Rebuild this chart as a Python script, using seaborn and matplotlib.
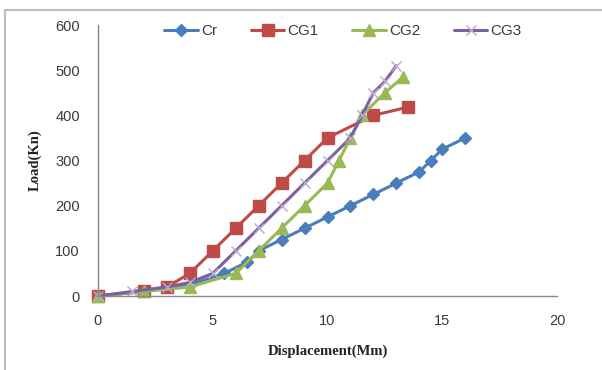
import matplotlib
matplotlib.use("Agg")
import matplotlib.pyplot as plt
import seaborn as sns
import pandas as pd
from matplotlib.lines import Line2D

# ---- data ----
cr_x = [0, 2, 4, 5.5, 6.5, 7, 8, 9, 10, 11, 12, 13, 14, 14.5, 15, 16]
cr_y = [0, 10, 25, 50, 75, 100, 125, 150, 175, 200, 225, 250, 275, 300, 325, 350]
cg1_x = [0, 2, 3, 4, 5, 6, 7, 8, 9, 10, 12, 13.5]
cg1_y = [0, 10, 20, 50, 100, 150, 200, 250, 300, 350, 400, 418]
cg2_x = [0, 2, 4, 6, 7, 8, 9, 10, 10.5, 11, 11.5, 12.5, 13.3]
cg2_y = [0, 10, 20, 50, 100, 150, 200, 250, 300, 350, 400, 450, 485]
cg3_x = [0, 1.5, 3, 4, 5, 6, 7, 8, 9, 10, 11, 11.5, 12, 12.5, 13]
cg3_y = [0, 10, 20, 30, 50, 100, 150, 200, 250, 300, 350, 400, 450, 475, 510]
series_names = ["Cr", "CG1", "CG2", "CG3"]
x_ticks = [0, 5, 10, 15, 20]
y_ticks = [0, 100, 200, 300, 400, 500, 600]

sns.set_style("white")
plt.rcParams['font.family'] = ['Liberation Sans', 'DejaVu Sans']

fig = plt.figure(figsize=(6.02, 3.70), dpi=100)
ax = fig.add_axes([98/602, 1-296/370, (557-98)/602, (296-25)/370])

styles = {
    "Cr":  dict(color="#4A7EBB", marker="D", ms=6, mfc="#4A7EBB", mec="#4A7EBB", mew=1),
    "CG1": dict(color="#BE4B48", marker="s", ms=8.5, mfc="#BE4B48", mec="#BE4B48", mew=1),
    "CG2": dict(color="#98B954", marker="^", ms=8.5, mfc="#98B954", mec="#98B954", mew=1),
    "CG3": dict(color="#7D60A0", marker="x", ms=7, mfc="#B9A8D0", mec="#B9A8D0", mew=1),
}
data = {"Cr": (cr_x, cr_y), "CG1": (cg1_x, cg1_y), "CG2": (cg2_x, cg2_y), "CG3": (cg3_x, cg3_y)}

for name in series_names:
    xs, ys = data[name]
    df = pd.DataFrame({"x": xs, "y": ys})
    st = styles[name]
    sns.lineplot(data=df, x="x", y="y", ax=ax, color=st["color"], lw=2.2,
                 marker=st["marker"], markersize=st["ms"], markerfacecolor=st["mfc"],
                 markeredgecolor=st["mec"], markeredgewidth=st["mew"],
                 label=name, clip_on=False, sort=False)

ax.set_xlim(0, 20)
ax.set_ylim(0, 600)
ax.set_xticks(x_ticks)
ax.set_yticks(y_ticks)
for s in ["top", "right"]:
    ax.spines[s].set_visible(False)
for s in ["left", "bottom"]:
    ax.spines[s].set_color("#878787")
    ax.spines[s].set_linewidth(1)
ax.tick_params(axis="both", which="major", length=5, width=1, color="#878787",
               labelsize=10.5, labelcolor="#3A3A3A", direction="out")
ax.tick_params(axis="x", pad=8)
ax.tick_params(axis="y", pad=8)
ax.grid(False)

ax.set_xlabel("Displacement(Mm)", fontfamily="Liberation Serif", fontweight="bold",
              fontsize=10.5, color="#222222", labelpad=12)
ax.set_ylabel("Load(Kn)", fontfamily="Liberation Serif", fontweight="bold",
              fontsize=10.5, color="#222222", labelpad=10)

leg = ax.legend(loc="center", bbox_to_anchor=(343/602, 1-31/370), bbox_transform=fig.transFigure,
                ncol=4, frameon=False, fontsize=11, handlelength=2.2, columnspacing=2.2,
                handletextpad=0.2)
for t in leg.get_texts():
    t.set_color("#3A3A3A")

# outer border: top and left edges only
fig.add_artist(Line2D([5/602, 1.0], [1-10/370, 1-10/370], transform=fig.transFigure,
                      color="#BDBDBD", lw=1.5))
fig.add_artist(Line2D([5/602, 5/602], [0.0, 1-10/370], transform=fig.transFigure,
                      color="#BDBDBD", lw=1.5))

fig.savefig("out.png", dpi=100)
